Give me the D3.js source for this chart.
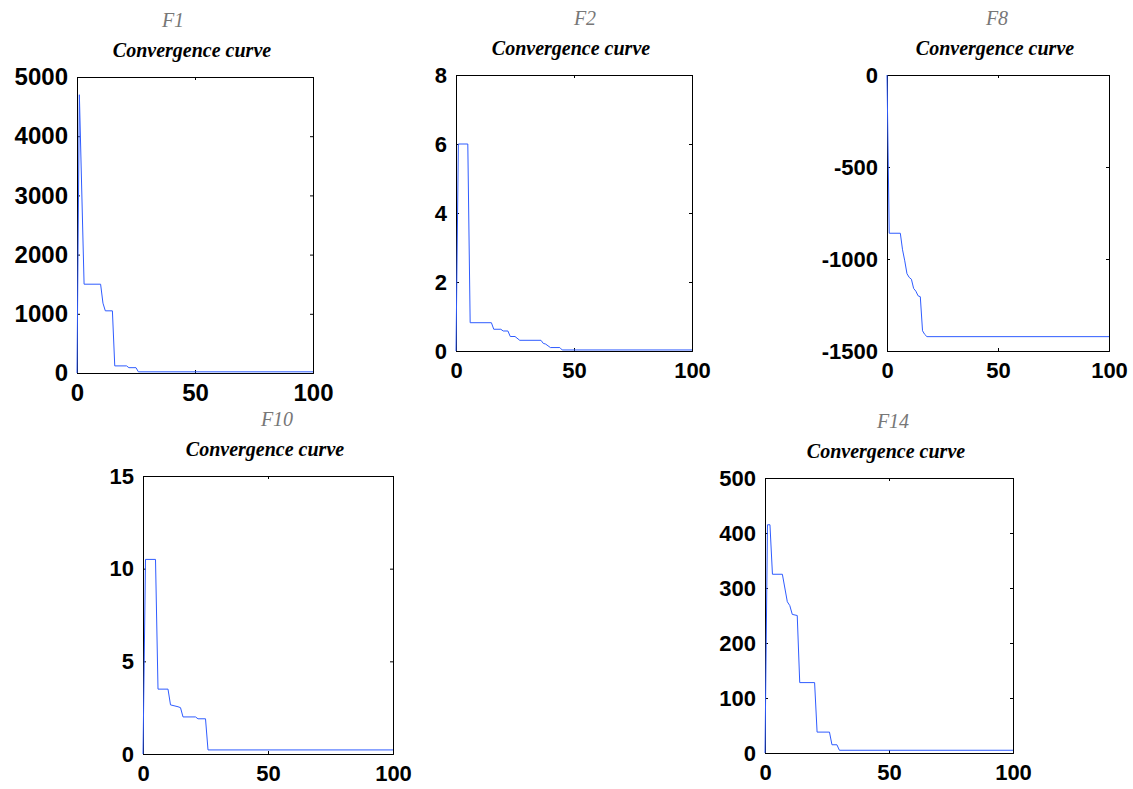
<!DOCTYPE html>
<html>
<head>
<meta charset="utf-8">
<script src="https://cdn.jsdelivr.net/npm/d3@7"></script>
<style>
  body { margin: 0; background: #fff; }
  svg { display: block; }
</style>
</head>
<body>
<div id="grafica"></div>
<script>
// valores (iteracion, mejor valor)
var f1Iter = [0, 1, 3, 10, 11, 12, 15, 16, 21, 22, 25, 26, 100];
var f1Best = [0, 4700, 1500, 1500, 1180, 1050, 1050, 120, 120, 90, 90, 20, 20];

var f2Iter = [0, 1, 5, 6, 15, 16, 19, 20, 22, 23, 25, 27, 36, 37, 38, 40, 44, 45, 100];
var f2Best = [0, 6, 6, 0.82, 0.82, 0.63, 0.63, 0.58, 0.58, 0.42, 0.42, 0.31, 0.31, 0.22, 0.2, 0.1, 0.1, 0.03, 0.03];

var f8Iter = [0, 1, 6, 7, 8, 9, 10, 11, 12, 13, 14, 15, 16, 17, 18, 100];
var f8Best = [0, -860, -860, -950, -1010, -1080, -1100, -1110, -1160, -1175, -1200, -1205, -1390, -1410, -1422, -1422];

var f10Iter = [0, 1, 5, 6, 10, 11, 14, 15, 16, 21, 22, 25, 26, 100];
var f10Best = [0, 10.5, 10.5, 3.5, 3.5, 2.65, 2.55, 2.5, 2.0, 2.0, 1.9, 1.9, 0.22, 0.22];

var f14Iter = [0, 1, 2, 3, 7, 9, 10, 11, 13, 14, 20, 21, 26, 27, 29, 30, 100];
var f14Best = [0, 415, 415, 325, 325, 275, 268, 252, 250, 128, 128, 38, 38, 15, 15, 5, 5];

var xTicks = [0, 50, 100];
var f1Ticks = [0, 1000, 2000, 3000, 4000, 5000];
var f2Ticks = [0, 2, 4, 6, 8];
var f8Ticks = [-1500, -1000, -500, 0];
var f10Ticks = [0, 5, 10, 15];
var f14Ticks = [0, 100, 200, 300, 400, 500];

var nombres = ["F1", "F2", "F8", "F10", "F14"];

var paneles = [
  { nombre: nombres[0], it: f1Iter, val: f1Best, ticks: f1Ticks, ydom: [0, 5000],
    x0: 77, y0: 77, x1: 313, y1: 373, fs: 24, dxF: -22 },
  { nombre: nombres[1], it: f2Iter, val: f2Best, ticks: f2Ticks, ydom: [0, 8],
    x0: 456, y0: 75, x1: 692, y1: 351, fs: 22, dxF: 11 },
  { nombre: nombres[2], it: f8Iter, val: f8Best, ticks: f8Ticks, ydom: [-1500, 0],
    x0: 887, y0: 75, x1: 1109, y1: 351, fs: 22, dxF: -1 },
  { nombre: nombres[3], it: f10Iter, val: f10Best, ticks: f10Ticks, ydom: [0, 15],
    x0: 143, y0: 476, x1: 393, y1: 754, fs: 22, dxF: 9 },
  { nombre: nombres[4], it: f14Iter, val: f14Best, ticks: f14Ticks, ydom: [0, 500],
    x0: 765, y0: 478, x1: 1013, y1: 753, fs: 22, dxF: 4 }
];

var formato = function (d) { return String(d); }; // sin separador de miles, guion simple

var esevege = d3.select("#grafica")
  .append("svg")
  .attr("width", 1133)
  .attr("height", 789);

paneles.forEach(function (p) {
  var x = d3.scaleLinear().domain([0, 100]).range([p.x0, p.x1]);
  var y = d3.scaleLinear().domain(p.ydom).range([p.y1, p.y0]);
  var cx = (p.x0 + p.x1) / 2;
  var g = esevege.append("g");

  // titulos
  g.append("text")
    .attr("x", cx + p.dxF)
    .attr("y", p.y0 - 50)
    .attr("text-anchor", "middle")
    .style("font-family", "'Liberation Serif', serif")
    .style("font-style", "italic")
    .style("font-size", "20px")
    .style("fill", "#777")
    .text(p.nombre);
  g.append("text")
    .attr("x", cx - 3)
    .attr("y", p.y0 - 20)
    .attr("text-anchor", "middle")
    .style("font-family", "'Liberation Serif', serif")
    .style("font-style", "italic")
    .style("font-weight", "bold")
    .style("font-size", "20px")
    .style("fill", "#000")
    .text("Convergence curve");

  // ejes con ticks hacia dentro
  var ejes = [
    [d3.axisBottom(x).tickValues(xTicks).tickSize(-3).tickPadding(11).tickFormat(formato), "translate(0," + p.y1 + ")"],
    [d3.axisTop(x).tickValues(xTicks).tickSize(-3).tickFormat(""), "translate(0," + p.y0 + ")"],
    [d3.axisLeft(y).tickValues(p.ticks).tickSize(-3).tickPadding(9).tickFormat(formato), "translate(" + p.x0 + ",0)"],
    [d3.axisRight(y).tickValues(p.ticks).tickSize(-3).tickFormat(""), "translate(" + p.x1 + ",0)"]
  ];
  ejes.forEach(function (e) {
    var a = g.append("g").attr("transform", e[1]).call(e[0]);
    a.select(".domain").attr("stroke", "#000").attr("stroke-width", 1);
    a.selectAll(".tick line").attr("stroke", "#000");
    a.selectAll("text")
      .style("font-family", "'Liberation Sans', Arial, sans-serif")
      .style("font-weight", "bold")
      .style("font-size", p.fs + "px")
      .style("fill", "#000");
  });

  var linea = d3.line()
    .x(function (d, i) { return x(p.it[i]); })
    .y(function (d) { return y(d); });
  g.append("path")
    .datum(p.val)
    .attr("d", linea)
    .attr("fill", "none")
    .attr("stroke", "#2f5cff")
    .attr("stroke-width", 1);
});
</script>
</body>
</html>
